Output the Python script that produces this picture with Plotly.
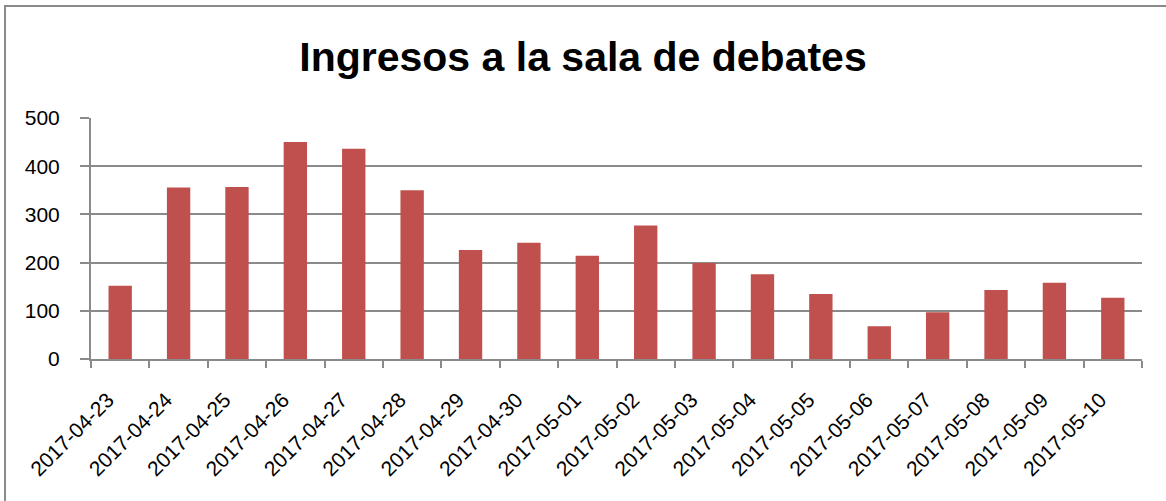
import plotly.graph_objects as go

# Daily entries to the debate room
fechas = ["2017-04-23", "2017-04-24", "2017-04-25", "2017-04-26", "2017-04-27",
          "2017-04-28", "2017-04-29", "2017-04-30", "2017-05-01", "2017-05-02",
          "2017-05-03", "2017-05-04", "2017-05-05", "2017-05-06", "2017-05-07",
          "2017-05-08", "2017-05-09", "2017-05-10"]
ingresos = [152, 356, 357, 450, 436, 350, 226, 241, 214, 277,
            199, 176, 135, 68, 97, 143, 158, 127]
y_ticks = [0, 100, 200, 300, 400, 500]

W, H = 1166, 501
L, R, T, B = 91, 24, 118, 142
pw, ph = W - L - R, H - T - B
grey = "#8a8a8a"

fig = go.Figure(go.Bar(x=fechas, y=ingresos, marker_color="#C0504D",
                       marker_line_width=0))

fig.update_layout(
    width=W, height=H,
    margin=dict(l=L, r=R, t=T, b=B, autoexpand=False),
    paper_bgcolor="white", plot_bgcolor="white",
    font=dict(family="Liberation Sans", size=21, color="black"),
    title=dict(text="<b>Ingresos a la sala de debates</b>",
               x=0.5, xanchor="center", y=1 - 57 / H, yanchor="middle",
               font=dict(family="Liberation Sans", size=41, color="black")),
    bargap=0.6,
    showlegend=False,
)

# labels sit a bit further from the ticks, along their slant, as in Excel
padded = [f + "\u00a0" * 3 for f in fechas]
fig.update_xaxes(type="category", tickangle=-45, tickson="boundaries",
                 tickvals=fechas, ticktext=padded,
                 ticks="outside", ticklen=7, tickcolor=grey, tickwidth=2,
                 ticklabelstandoff=6, automargin=False,
                 showline=True, linecolor=grey, linewidth=2,
                 showgrid=False)
fig.update_yaxes(range=[0, 500], tickvals=y_ticks, ticks="outside", ticklen=9,
                 tickcolor=grey, tickwidth=2, ticklabelstandoff=16,
                 automargin=False,
                 showline=True, linecolor=grey, linewidth=2,
                 gridcolor=grey, gridwidth=2, zeroline=False)

# chart border (Excel style frame)
fig.add_shape(type="rect", xref="paper", yref="paper",
              x0=(5 - L) / pw, x1=(1180 - L) / pw,
              y0=(H - B - 520) / ph, y1=(H - B - 6) / ph,
              line=dict(color=grey, width=2), layer="below")

# drop the browser's default page margin so the figure sits at (0, 0)
fig.write_html("out.html", config={"displayModeBar": False},
               post_script="document.body.style.margin='0';")
